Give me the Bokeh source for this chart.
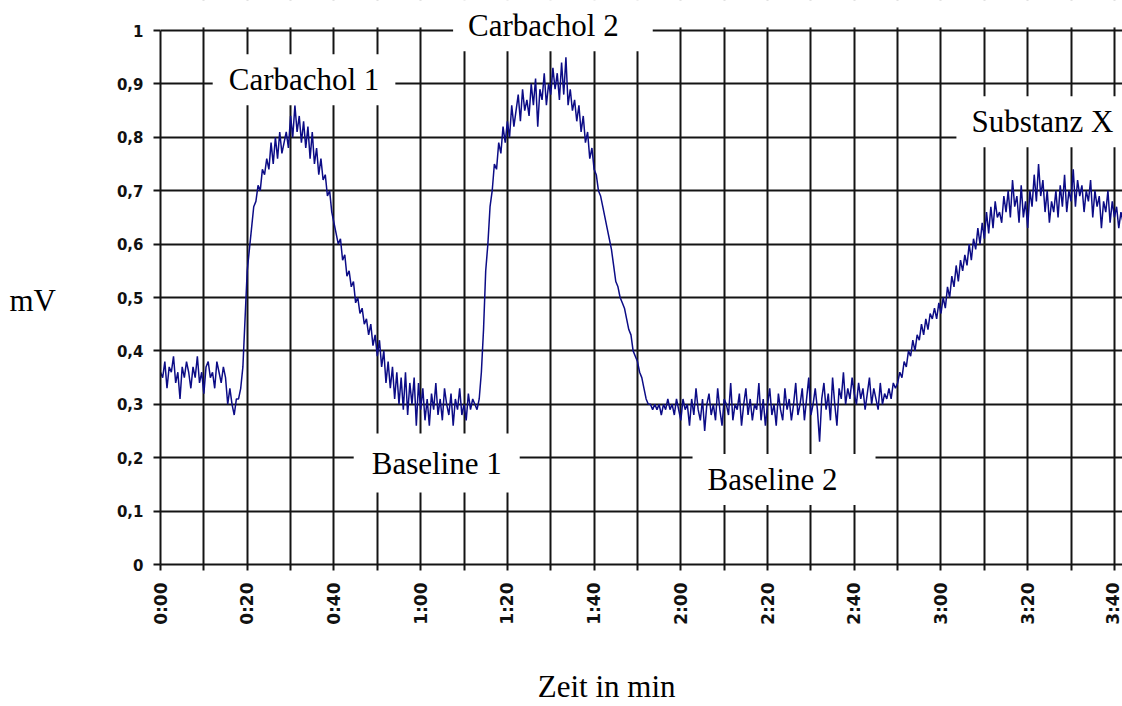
import math
from bokeh.plotting import figure
from bokeh.models import FixedTicker, CustomJSTickFormatter, Label, Range1d, BoxAnnotation
from bokeh.embed import file_html
from bokeh.resources import INLINE

# ---------------- data (one sample every 0.5 s) ----------------
sample_step = 0.5

baseline_start = [0.36, 0.35, 0.38, 0.33, 0.37, 0.36, 0.39, 0.34, 0.36, 0.31,
                  0.37, 0.35, 0.38, 0.36, 0.33, 0.37, 0.35, 0.39, 0.34, 0.36,
                  0.32, 0.37, 0.38, 0.35, 0.36, 0.33, 0.38, 0.36, 0.34, 0.37,
                  0.35, 0.30, 0.33, 0.30, 0.28, 0.31]

carbachol_1 = [0.31, 0.33, 0.37, 0.46, 0.55, 0.59, 0.63, 0.67, 0.68, 0.71,
               0.70, 0.74, 0.73, 0.76, 0.74, 0.79, 0.75, 0.80, 0.76, 0.81,
               0.77, 0.79, 0.81, 0.78, 0.84, 0.80, 0.86, 0.81, 0.84, 0.79,
               0.83, 0.78, 0.82, 0.76, 0.81, 0.75, 0.78, 0.73, 0.76, 0.72,
               0.73, 0.69, 0.70, 0.66, 0.64, 0.62, 0.60, 0.61, 0.57, 0.58,
               0.54, 0.55, 0.52, 0.53, 0.49, 0.50, 0.47, 0.48, 0.45, 0.46,
               0.43, 0.45, 0.41, 0.43, 0.39, 0.42, 0.37, 0.40, 0.34, 0.38,
               0.33, 0.37, 0.31, 0.36, 0.30, 0.35, 0.29, 0.36, 0.28, 0.34,
               0.30, 0.35, 0.26, 0.34]

baseline_1 = [0.29, 0.33, 0.27, 0.31, 0.26, 0.32, 0.29, 0.34, 0.28, 0.31,
              0.27, 0.33, 0.30, 0.28, 0.32, 0.26, 0.31, 0.29, 0.33, 0.28,
              0.30, 0.27, 0.32, 0.29, 0.31, 0.30, 0.29, 0.31]

carbachol_2 = [0.36, 0.44, 0.55, 0.60, 0.67, 0.70, 0.75, 0.74, 0.79, 0.77,
               0.82, 0.79, 0.83, 0.80, 0.86, 0.82, 0.85, 0.88, 0.83, 0.89,
               0.85, 0.87, 0.84, 0.90, 0.86, 0.91, 0.82, 0.89, 0.87, 0.92,
               0.86, 0.90, 0.88, 0.93, 0.89, 0.92, 0.87, 0.94, 0.88, 0.95,
               0.86, 0.89, 0.85, 0.87, 0.83, 0.86, 0.81, 0.84, 0.79, 0.81,
               0.76, 0.78, 0.74, 0.73, 0.70, 0.69, 0.67, 0.65, 0.63, 0.61,
               0.59, 0.56, 0.53, 0.52, 0.50, 0.49, 0.48, 0.46, 0.44, 0.43,
               0.40, 0.39, 0.38, 0.36, 0.35, 0.33, 0.31, 0.30]

baseline_2 = [0.30, 0.29, 0.30, 0.29, 0.30, 0.28, 0.30, 0.29, 0.31, 0.29,
              0.30, 0.28, 0.31, 0.29, 0.27, 0.31, 0.29, 0.30, 0.26, 0.31,
              0.28, 0.33, 0.29, 0.27, 0.31, 0.25, 0.30, 0.32, 0.28, 0.30,
              0.27, 0.33, 0.29, 0.26, 0.31, 0.30, 0.28, 0.34, 0.27, 0.30,
              0.29, 0.32, 0.26, 0.30, 0.33, 0.28, 0.31, 0.27, 0.30, 0.29,
              0.34, 0.27, 0.31, 0.26, 0.30, 0.33, 0.28, 0.30, 0.26, 0.32,
              0.29, 0.27, 0.33, 0.29, 0.31, 0.27, 0.30, 0.34, 0.28, 0.30,
              0.33, 0.27, 0.31, 0.35, 0.28, 0.30, 0.33, 0.29, 0.23, 0.31,
              0.34, 0.29, 0.32, 0.27, 0.35, 0.30, 0.26, 0.33, 0.31, 0.36,
              0.30, 0.33, 0.31, 0.35, 0.32, 0.30, 0.34, 0.31, 0.33, 0.29,
              0.32, 0.35, 0.30, 0.33, 0.31, 0.29, 0.34, 0.30, 0.32, 0.31,
              0.33, 0.31, 0.34, 0.33]

substanz_x = [0.34, 0.36, 0.35, 0.38, 0.37, 0.40, 0.39, 0.42, 0.40, 0.43,
              0.42, 0.45, 0.43, 0.46, 0.44, 0.47, 0.46, 0.48, 0.46, 0.49,
              0.47, 0.50, 0.48, 0.52, 0.50, 0.54, 0.52, 0.56, 0.53, 0.57,
              0.55, 0.58, 0.56, 0.60, 0.57, 0.61, 0.59, 0.63, 0.60, 0.64,
              0.61, 0.66, 0.62, 0.67, 0.63, 0.68, 0.65, 0.66, 0.64, 0.69,
              0.66, 0.70, 0.65, 0.72, 0.67, 0.69, 0.64, 0.71, 0.65, 0.68,
              0.63, 0.70, 0.67, 0.73, 0.68, 0.75, 0.69, 0.72, 0.66, 0.70,
              0.64, 0.68, 0.66, 0.70, 0.65, 0.71, 0.67, 0.73, 0.66, 0.70,
              0.68, 0.74, 0.67, 0.72, 0.69, 0.71, 0.66, 0.70, 0.68, 0.72,
              0.65, 0.70, 0.67, 0.69, 0.63, 0.68, 0.66, 0.70, 0.64, 0.68,
              0.65, 0.67, 0.63, 0.66, 0.64]

signal_mv = baseline_start + carbachol_1 + baseline_1 + carbachol_2 + baseline_2 + substanz_x
time_s = [i * sample_step for i in range(len(signal_mv))]

x_ticks = [0, 10, 20, 30, 40, 50, 60, 70, 80, 90, 100, 110,
           120, 130, 140, 150, 160, 170, 180, 190, 200, 210, 220]
x_tick_labels = ["0:00", "", "0:20", "", "0:40", "", "1:00", "", "1:20", "", "1:40", "",
                 "2:00", "", "2:20", "", "2:40", "", "3:00", "", "3:20", "", "3:40"]
y_ticks = [0.0, 0.1, 0.2, 0.3, 0.4, 0.5, 0.6, 0.7, 0.8, 0.9, 1.0]
y_tick_labels = ["0", "0,1", "0,2", "0,3", "0,4", "0,5", "0,6", "0,7", "0,8", "0,9", "1"]

phase_labels = ["Carbachol 1", "Carbachol 2", "Baseline 1", "Baseline 2", "Substanz X"]
x_title = "Zeit in min"
y_title = "mV"

# ---------------- figure ----------------
y_top = 1 + 30 / 534.0   # a little room above the 1-line for the "Carbachol 2" box
p = figure(width=1122, height=706,
           x_range=Range1d(0, 221.86), y_range=Range1d(0, y_top),
           output_backend="svg", toolbar_location=None,
           min_border_left=160, min_border_right=0,
           min_border_top=0, min_border_bottom=142)
p.outline_line_color = None
p.background_fill_color = "white"
p.border_fill_color = "white"

p.line(time_s, signal_mv, line_color="#0c0c86", line_width=1.5)

xt = FixedTicker(ticks=x_ticks)
yt = FixedTicker(ticks=y_ticks)
p.xaxis.ticker = xt
p.yaxis.ticker = yt
p.xgrid.ticker = xt
p.ygrid.ticker = yt
p.yaxis.bounds = (y_ticks[0], y_ticks[-1])

fmt_code = """
const i = tick_values.findIndex(t => Math.abs(t - tick) < 1e-6);
return i >= 0 ? tick_labels[i] : "";
"""
p.xaxis.formatter = CustomJSTickFormatter(args=dict(tick_values=x_ticks, tick_labels=x_tick_labels), code=fmt_code)
p.yaxis.formatter = CustomJSTickFormatter(args=dict(tick_values=y_ticks, tick_labels=y_tick_labels), code=fmt_code)

for g in (p.xgrid, p.ygrid):
    g.grid_line_color = "#141414"
    g.grid_line_width = 2
    g.grid_line_alpha = 1

serif = "Liberation Serif"
for ax in (p.xaxis, p.yaxis):
    ax.axis_line_color = "#141414"
    ax.axis_line_width = 2
    ax.major_tick_line_color = "#141414"
    ax.major_tick_line_width = 2
    ax.major_tick_in = 0
    ax.minor_tick_in = 0
    ax.minor_tick_out = 0
    ax.major_label_text_font = "DejaVu Sans"
    ax.major_label_text_font_style = "bold"
    ax.major_label_text_color = "#111111"
    ax.axis_label_text_font = serif
    ax.axis_label_text_font_size = "31px"
    ax.axis_label_text_font_style = "normal"
    ax.axis_label_text_color = "black"

p.xaxis.major_tick_out = 6
p.xaxis.major_label_standoff = 12
p.xaxis.major_label_orientation = math.pi / 2
p.xaxis.major_label_text_font_size = "17px"
# x title sits a little left of the frame centre in the original: pad it with no-break spaces
p.xaxis.axis_label = x_title + "\u00a0" * 9
p.xaxis.axis_label_standoff = 41

p.yaxis.major_tick_out = 7
p.yaxis.major_label_standoff = 10
p.yaxis.major_label_text_font_size = "15px"
# y title written horizontally; the leading empty line lowers it to the middle of 0..1
p.yaxis.axis_label = "\n" + y_title
p.yaxis.axis_label_orientation = "horizontal"
p.yaxis.axis_label_text_line_height = 1.0
p.yaxis.axis_label_standoff = 58

# white strip above the 1-line (keeps vertical grid lines ending at 1)
p.add_layout(BoxAnnotation(bottom=1.006, top=1.2, fill_color="white", fill_alpha=1.0,
                           line_color="white", line_width=2, level="annotation"))

box_specs = [
    (phase_labels[0], 33.1, 0.908, dict(left=16, right=16, top=8, bottom=8)),
    (phase_labels[1], 90.5, 1.009, dict(left=15, right=34, top=8, bottom=8)),
    (phase_labels[2], 63.7, 0.190, dict(left=18, right=18, top=12, bottom=12)),
    (phase_labels[3], 143.8, 0.159, dict(left=15, right=38, top=8, bottom=8)),
    (phase_labels[4], 203.4, 0.829, dict(left=15, right=15, top=8, bottom=8)),
]
for text, xx, yy, pad in box_specs:
    p.add_layout(Label(x=xx, y=yy, text=text, text_font=serif, text_font_size="31px",
                       text_color="black", text_align="center", text_baseline="middle",
                       background_fill_color="white", background_fill_alpha=1.0,
                       padding=pad))

open("out.html", "w").write(file_html(p, INLINE))
